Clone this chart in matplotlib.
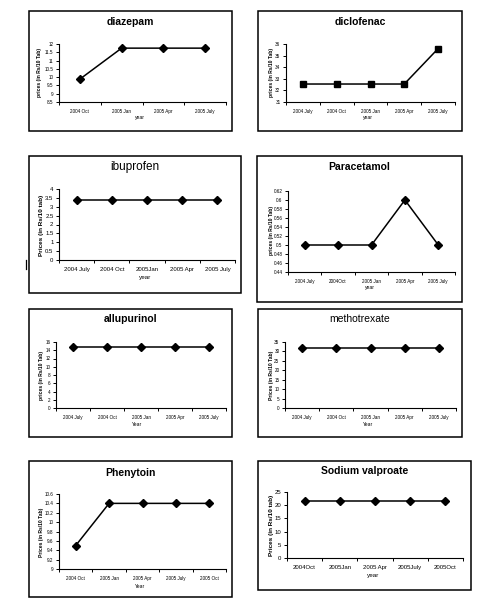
import matplotlib
matplotlib.use('Agg')
import matplotlib.pyplot as plt
from matplotlib.patches import Rectangle
import numpy as np

plt.rcParams['font.family'] = ['Liberation Sans', 'DejaVu Sans']

W, H = 493, 607

# data
diazepam_x = ['2004 Oct', '2005 Jan', '2005 Apr', '2005 July']
diazepam_y = [9.88, 11.75, 11.75, 11.75]

diclofenac_x = ['2004 July', '2004 Oct', '2005 Jan', '2005 Apr', '2005 July']
diclofenac_y = [32.55, 32.55, 32.55, 32.55, 35.6]

ibuprofen_x = ['2004 July', '2004 Oct', '2005Jan', '2005 Apr', '2005 July']
ibuprofen_y = [3.4, 3.4, 3.4, 3.4, 3.4]

paracetamol_x = ['2004 July', '2004Oct', '2005 Jan', '2005 Apr', '2005 July']
paracetamol_y = [0.5, 0.5, 0.5, 0.6, 0.5]

allupurinol_x = ['2004 July', '2004 Oct', '2005 Jan', '2005 Apr', '2005 July']
allupurinol_y = [14.8, 14.8, 14.8, 14.8, 14.8]

methotrexate_x = ['2004 July', '2004 Oct', '2005 Jan', '2005 Apr', '2005 July']
methotrexate_y = [32, 32, 32, 32, 32]

phenytoin_x = ['2004 Oct', '2005 Jan', '2005 Apr', '2005 July', '2005 Oct']
phenytoin_y = [9.5, 10.4, 10.4, 10.4, 10.4]

valproate_x = ['2004Oct', '2005Jan', '2005 Apr', '2005July', '2005Oct']
valproate_y = [21.5, 21.5, 21.5, 21.5, 21.5]

fig = plt.figure(figsize=(W / 100, H / 100), dpi=100)
fig.patch.set_facecolor('white')


def frac(x0, y0, x1, y1):
    return [x0 / W, 1 - y1 / H, (x1 - x0) / W, (y1 - y0) / H]


def panel(box, axbox, title, cats, vals, ylo, yhi, ystep, marker,
          ylab, ylab_xy, xlab, xlab_xy, title_y, tfs=7.5, tbold=True,
          tickfs=3.3, labfs=3.6):
    b = frac(*box)
    fig.patches.append(Rectangle((b[0], b[1]), b[2], b[3], fill=False,
                                 edgecolor='black', linewidth=1.1,
                                 transform=fig.transFigure, figure=fig))
    ax = fig.add_axes(frac(*axbox))
    n = len(cats)
    xs = np.arange(n)
    ax.plot(xs, vals, color='black', linewidth=1.1, marker=marker,
            markersize=4.2, markerfacecolor='black', markeredgecolor='black')
    ax.set_xlim(-0.5, n - 0.5)
    ax.set_ylim(ylo, yhi)
    yt = np.arange(ylo, yhi + ystep / 2, ystep)
    ax.set_yticks(yt)
    ax.set_yticklabels(['{:g}'.format(round(v, 4)) for v in yt], fontsize=tickfs)
    ax.set_xticks(np.arange(n + 1) - 0.5)
    ax.set_xticklabels([])
    ax.set_xticks(xs, minor=True)
    ax.set_xticklabels(cats, minor=True, fontsize=tickfs)
    ax.tick_params(axis='x', which='minor', length=0, pad=5)
    ax.tick_params(axis='x', which='major', length=2.2, width=0.7, direction='out')
    ax.tick_params(axis='y', length=2, width=0.7, pad=2)
    for s in ['top', 'right']:
        ax.spines[s].set_visible(False)
    for s in ['left', 'bottom']:
        ax.spines[s].set_linewidth(0.8)
    ax.patch.set_alpha(0)
    cx = (box[0] + box[2]) / 2
    fig.text(cx / W, 1 - title_y / H, title, ha='center', va='center',
             fontsize=tfs, fontweight='bold' if tbold else 'normal')
    fig.text(ylab_xy[0] / W, 1 - ylab_xy[1] / H, ylab, rotation=90,
             ha='center', va='center', fontsize=labfs, fontweight='bold')
    fig.text(xlab_xy[0] / W, 1 - xlab_xy[1] / H, xlab, ha='center',
             va='center', fontsize=labfs)
    return ax


panel((29, 11, 232, 131), (59, 44, 226, 102), 'diazepam', diazepam_x, diazepam_y,
      8.5, 12, 0.5, 'D', 'prices (in Rs/10 Tab)', (40, 72), 'year', (140, 118), 22)

panel((258, 11, 462, 131), (286, 44, 455, 102), 'diclofenac', diclofenac_x, diclofenac_y,
      31, 36, 1, 's', 'prices (in Rs/10 Tab)', (271, 72), 'year', (368, 118), 22)

panel((29, 156, 241, 293), (59, 189, 235, 260), 'ibuprofen', ibuprofen_x, ibuprofen_y,
      0, 4, 0.5, 'D', 'Prices (in Rs/10 tab)', (41, 225), 'year', (145, 278), 167,
      tfs=8.5, tbold=False, tickfs=4.3, labfs=4.6)

panel((257, 156, 462, 302), (288, 191, 455, 272), 'Paracetamol', paracetamol_x, paracetamol_y,
      0.44, 0.62, 0.02, 'D', 'prices (in Rs/10 Tab)', (271, 230), 'year', (370, 288), 167)

panel((29, 309, 232, 437), (56, 342, 226, 408), 'allupurinol', allupurinol_x, allupurinol_y,
      0, 16, 2, 'D', 'prices (in Rs/10 Tab)', (41, 375), 'Year', (137, 425), 319)

panel((258, 309, 462, 437), (285, 342, 456, 408), 'methotrexate', methotrexate_x, methotrexate_y,
      0, 35, 5, 'D', 'Prices (in Rs/10 Tab)', (271, 375), 'Year', (368, 424), 319,
      tfs=7.5, tbold=False)

panel((29, 461, 232, 597), (59, 494, 226, 569), 'Phenytoin', phenytoin_x, phenytoin_y,
      9, 10.6, 0.2, 'D', 'Prices (in Rs/10 Tab)', (41, 532), 'Year', (140, 586), 473)

panel((258, 461, 471, 590), (287, 492, 463, 558), 'Sodium valproate', valproate_x, valproate_y,
      0, 25, 5, 'D', 'Prices (in Rs/10 tab)', (271, 525), 'year', (373, 576), 471,
      tickfs=4.3, labfs=4.6)

# stray mark left of the ibuprofen box
fig.lines.append(plt.Line2D([26 / W, 26 / W], [1 - 260 / H, 1 - 269 / H],
                            color='black', linewidth=0.9, transform=fig.transFigure))

fig.savefig('out.png', dpi=100)
